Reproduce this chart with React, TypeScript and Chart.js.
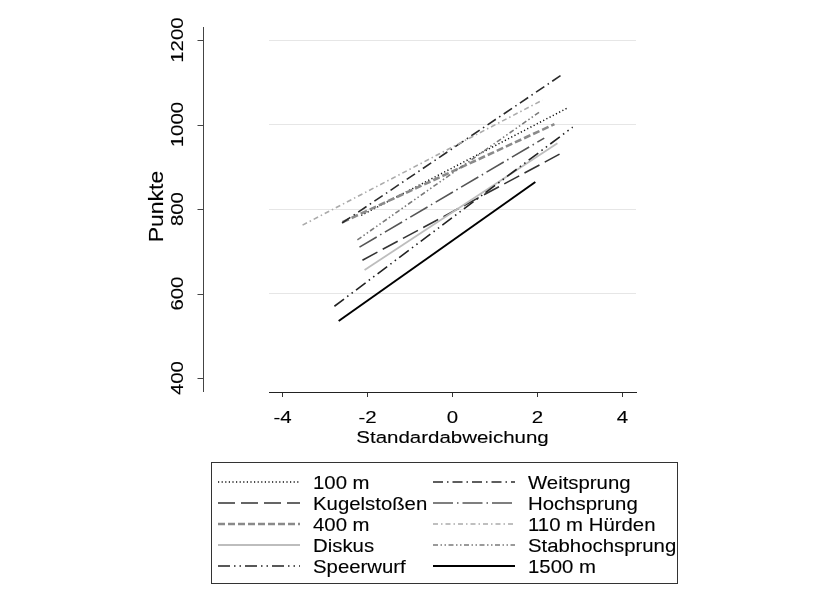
import { useEffect, useRef } from "react";
import { Chart, registerables } from "chart.js";
Chart.register(...registerables);

// ---- data ----
const events = [
  "100 m",
  "Kugelstoßen",
  "400 m",
  "Diskus",
  "Speerwurf",
  "Weitsprung",
  "Hochsprung",
  "110 m Hürden",
  "Stabhochsprung",
  "1500 m",
];
const zMin = [-2.15, -2.12, -2.59, -2.07, -2.78, -2.6, -2.19, -3.53, -2.24, -2.68];
const zMax = [2.7, 2.52, 2.4, 2.47, 2.83, 2.56, 2.16, 2.12, 2.05, 1.95];
const pointsAtMin = [785, 679, 769, 656, 570, 767, 710, 762, 727, 535];
const pointsAtMax = [1039, 930, 1001, 956, 994, 1117, 968, 1058, 1030, 864];
const xTicks = [-4, -2, 0, 2, 4];
const yTicks = [400, 600, 800, 1000, 1200];
const yGridTicks = [600, 800, 1000, 1200];
const xTitle = "Standardabweichung";
const yTitle = "Punkte";

// ---- styles ----
const lineColors = ["#111", "#333", "#8a8a8a", "#bdbdbd", "#222", "#2a2a2a", "#555", "#ababab", "#7a7a7a", "#000"];
const lineWidths = [1.5, 1.6, 2.6, 1.8, 1.6, 1.6, 1.6, 1.6, 1.6, 2];
const lineDashes: number[][] = [
  [1.2, 2.4],
  [17, 6],
  [7, 3],
  [],
  [12, 4, 1.5, 4, 1.5, 4],
  [10, 4, 1.5, 4],
  [20, 4, 1.5, 4],
  [5, 3, 1.5, 3],
  [5, 2.5, 1.5, 2.5, 1.5, 2.5],
  [],
];

const FONT = '"Liberation Sans", Arial, sans-serif';

function stretchedText(
  ctx: CanvasRenderingContext2D,
  text: string,
  x: number,
  y: number,
  size: number,
  sx: number,
  align: CanvasTextAlign,
  rotate = false
) {
  ctx.save();
  ctx.translate(x, y);
  if (rotate) ctx.rotate(-Math.PI / 2);
  ctx.scale(sx, 1);
  ctx.font = `${size}px ${FONT}`;
  ctx.textAlign = align;
  ctx.textBaseline = "alphabetic";
  ctx.fillStyle = "#000";
  ctx.strokeStyle = "#000";
  ctx.lineWidth = 0.12;
  ctx.fillText(text, 0, 0);
  ctx.strokeText(text, 0, 0);
  ctx.restore();
}

const decor = {
  id: "decor",
  afterDraw(chart: any) {
    const ctx: CanvasRenderingContext2D = chart.ctx;
    const xs = chart.scales.x;
    const ys = chart.scales.y;
    const area = chart.chartArea;

    // y axis (detached, Stata style)
    const axX = 195.5;
    ctx.save();
    ctx.strokeStyle = "#444";
    ctx.lineWidth = 1;
    ctx.beginPath();
    ctx.moveTo(axX, area.top);
    ctx.lineTo(axX, area.bottom);
    for (const v of yTicks) {
      const py = Math.round(ys.getPixelForValue(v)) + 0.5;
      ctx.moveTo(axX, py);
      ctx.lineTo(axX - 6, py);
    }
    ctx.stroke();
    ctx.restore();

    for (const v of yTicks) {
      const py = ys.getPixelForValue(v);
      stretchedText(ctx, String(v), 175, py, 16.3, 1.25, "center", true);
    }
    stretchedText(ctx, yTitle, 155, (area.top + area.bottom) / 2 - 3, 20, 1.15, "center", true);

    // x tick labels and title
    for (const v of xTicks) {
      const px = xs.getPixelForValue(v);
      stretchedText(ctx, String(v), px, 415, 16.8, 1.22, "center");
    }
    stretchedText(ctx, xTitle, xs.getPixelForValue(0), 435, 16.8, 1.22, "center");

    // legend
    const bx = 203.5, by = 454.5, bw = 466, bh = 121;
    ctx.save();
    ctx.strokeStyle = "#333";
    ctx.lineWidth = 1;
    ctx.strokeRect(bx, by, bw, bh);
    ctx.restore();
    const ds = chart.data.datasets;
    const colSample = [[210, 292], [425, 507]];
    const colText = [305, 520];
    ds.forEach((d: any, i: number) => {
      const col = i < 5 ? 0 : 1;
      const row = i % 5;
      const cy = 474 + row * 21;
      ctx.save();
      ctx.strokeStyle = d.borderColor;
      ctx.lineWidth = d.borderWidth;
      ctx.setLineDash(d.borderDash || []);
      ctx.lineCap = "butt";
      ctx.beginPath();
      ctx.moveTo(colSample[col][0], cy);
      ctx.lineTo(colSample[col][1], cy);
      ctx.stroke();
      ctx.restore();
      stretchedText(ctx, d.label, colText[col], cy + 6.5, 18.5, 1.1, "left");
    });
  },
};

export default function App() {
  const ref = useRef<HTMLCanvasElement | null>(null);
  useEffect(() => {
    if (!ref.current) return;
    const chart = new Chart(ref.current, {
      type: "scatter",
      data: {
        datasets: events.map((name, i) => ({
          label: name,
          data: [
            { x: zMin[i], y: pointsAtMin[i] },
            { x: zMax[i], y: pointsAtMax[i] },
          ],
          showLine: true,
          borderColor: lineColors[i],
          borderWidth: lineWidths[i],
          borderDash: lineDashes[i],
          borderCapStyle: "butt",
          pointRadius: 0,
          pointHoverRadius: 0,
          fill: false,
          order: -i,
        })),
      },
      options: {
        responsive: false,
        animation: false,
        events: [],
        layout: { padding: { left: 261, right: 193, top: 19, bottom: 207 } },
        plugins: {
          legend: { display: false },
          tooltip: { enabled: false },
        },
        scales: {
          x: {
            type: "linear",
            min: -4.32,
            max: 4.32,
            afterBuildTicks: (s: any) => {
              s.ticks = xTicks.map((v) => ({ value: v }));
            },
            ticks: { display: false },
            grid: { drawOnChartArea: false, drawTicks: true, tickLength: 5, tickColor: "#333", lineWidth: 1 },
            border: { display: true, color: "#222", width: 1 },
          },
          y: {
            type: "linear",
            min: 367,
            max: 1231,
            afterBuildTicks: (s: any) => {
              s.ticks = yGridTicks.map((v) => ({ value: v }));
            },
            ticks: { display: false },
            grid: { drawTicks: false, color: "#e6e6e6", lineWidth: 1 },
            border: { display: false },
          },
        },
      } as any,
      plugins: [decor],
    });
    return () => chart.destroy();
  }, []);
  return (
    <div style={{ width: 821, height: 596 }}>
      <canvas ref={ref} width={821} height={596} />
    </div>
  );
}
